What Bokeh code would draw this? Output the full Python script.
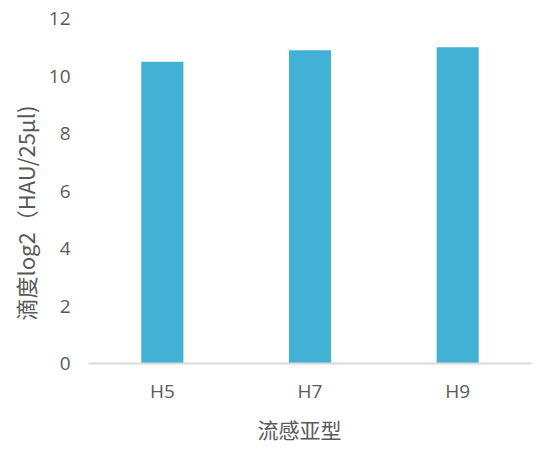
from bokeh.plotting import figure
from bokeh.models import ColumnDataSource, FactorRange, Range1d, FixedTicker, Title
from bokeh.embed import file_html
from bokeh.resources import INLINE

categories = ["H5", "H7", "H9"]
titers = [10.5, 10.9, 11.0]
y_ticks = [0, 2, 4, 6, 8, 10, 12]
x_title = "流感亚型"
y_title = "滴度log2（HAU/25μl)"

src = ColumnDataSource(dict(cat=categories, val=titers))

p = figure(width=539, height=453, x_range=FactorRange(*categories, range_padding=0),
           y_range=Range1d(0, 12), output_backend="svg", toolbar_location=None,
           min_border_left=88, min_border_right=8, min_border_top=18, min_border_bottom=90)
p.outline_line_color = None
p.background_fill_color = "white"
p.border_fill_color = "white"

p.vbar(x="cat", top="val", width=0.285, source=src, fill_color="#41B1D6", line_color=None)

p.xgrid.grid_line_color = None
p.ygrid.grid_line_color = None

TXT = "#595959"
p.yaxis.ticker = FixedTicker(ticks=y_ticks)
p.yaxis.axis_line_color = None
p.yaxis.major_tick_line_color = None
p.yaxis.minor_tick_line_color = None
p.yaxis.major_label_text_font = "Open Sans"
p.yaxis.major_label_text_font_size = "19px"
p.yaxis.major_label_text_color = TXT
p.yaxis.major_label_standoff = 12

p.xaxis.axis_line_color = "#D9D9D9"
p.xaxis.axis_line_width = 2
p.xaxis.major_tick_line_color = None
p.xaxis.minor_tick_line_color = None
p.xaxis.major_label_text_font = "Open Sans"
p.xaxis.major_label_text_font_size = "19px"
p.xaxis.major_label_text_color = TXT
p.xaxis.major_label_standoff = 8

p.add_layout(Title(text=y_title, align="left", offset=43, standoff=10,
                   text_font="Noto Sans CJK SC", text_font_size="22px",
                   text_font_style="normal", text_color=TXT), "left")
p.add_layout(Title(text=x_title, align="left", offset=169, standoff=10,
                   text_font="Noto Sans CJK SC", text_font_size="21px",
                   text_font_style="normal", text_color=TXT), "below")

open("out.html", "w").write(file_html(p, INLINE))
